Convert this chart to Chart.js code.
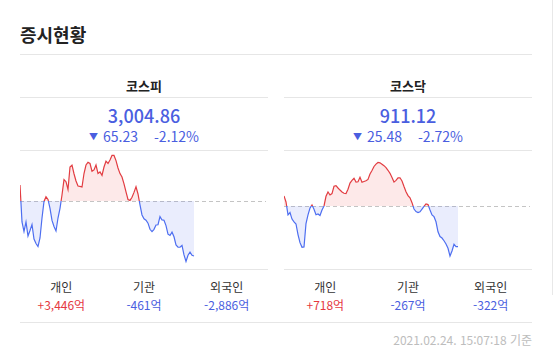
<!DOCTYPE html>
<html lang="ko">
<head>
<meta charset="utf-8">
<script src="https://cdn.jsdelivr.net/npm/chart.js@4.4.1/dist/chart.umd.min.js"></script>
<style>
  body { margin: 0; background: #fff; font-family: "Noto Sans CJK KR", "Noto Sans", sans-serif; color: #222; }
  #wrap { position: relative; width: 553px; height: 352px; overflow: hidden; }
  .edge { position: absolute; left: 552px; top: 0; width: 1px; height: 295px; background: #e8e8e8; }
  .title { position: absolute; left: 20px; top: 22px; font-size: 18px; font-weight: 700; line-height: 24px; color: #222; }
  .hr { position: absolute; height: 1px; background: #e6e6e6; }
  .pane { position: absolute; top: 0; width: 248px; height: 322px; }
  .pane .hr { left: 0; width: 248px; }
  .name { position: absolute; left: 0; width: 248px; top: 77px; text-align: center; font-size: 13px; font-weight: 700; line-height: 18px; color: #222; }
  .price { position: absolute; left: 0; width: 248px; top: 103px; text-align: center; font-size: 18px; font-weight: 500; line-height: 24px; color: #4a5ee0; }
  .chg { position: absolute; left: 0; width: 248px; top: 127px; text-align: center; font-size: 14px; line-height: 18px; color: #4a5ee0; }
  .chg .tri { font-size: 9px; vertical-align: 2px; margin-right: 5px; }
  .chg .pct { margin-left: 16px; }
  canvas { position: absolute; left: 0; top: 151px; }
  .col { position: absolute; top: 278px; width: 82.67px; text-align: center; }
  .col .lb { font-size: 12px; line-height: 18px; color: #333; }
  .col .vl { font-size: 12px; line-height: 18px; margin-top: 0px; }
  .up { color: #e5383f; }
  .down { color: #4a5ee0; }
  .stamp { position: absolute; right: 21px; top: 331px; font-size: 12px; line-height: 18px; color: #bdbdbd; }
</style>
</head>
<body>
<div id="wrap">
  <div class="edge"></div>
  <div class="title">증시현황</div>
  <div class="hr" style="left:20px; width:512px; top:54px;"></div>

  <div class="pane" style="left:20px;">
    <div class="name">코스피</div>
    <div class="hr" style="top:97px;"></div>
    <div class="price">3,004.86</div>
    <div class="chg"><span class="tri">▼</span>65.23<span class="pct">-2.12%</span></div>
    <div class="hr" style="top:150px;"></div>
    <canvas id="kospi" width="248" height="117"></canvas>
    <div class="hr" style="top:269px;"></div>
    <div id="kospiCols"></div>
  </div>

  <div class="pane" style="left:284px;">
    <div class="name">코스닥</div>
    <div class="hr" style="top:97px;"></div>
    <div class="price">911.12</div>
    <div class="chg"><span class="tri">▼</span>25.48<span class="pct">-2.72%</span></div>
    <div class="hr" style="top:150px;"></div>
    <canvas id="kosdaq" width="248" height="117"></canvas>
    <div class="hr" style="top:269px;"></div>
    <div id="kosdaqCols"></div>
  </div>

  <div class="hr" style="left:20px; width:512px; top:322px;"></div>
  <div class="stamp">2021.02.24. 15:07:18 기준</div>
</div>

<script>
// intraday slots for the full session; only the first part has prints so far
const slots = Array.from({ length: 125 }, (_, i) => i);

const kospiPrevClose = 3070.09;
const kospiValues = [
  3089.1, 3045.2, 3033.9, 3045.2, 3028.6, 3035.1, 3042.2, 3025.0, 3019.7, 3016.1,
  3026.2, 3049.9, 3069.5, 3075.1, 3071.9, 3061.2, 3047.0, 3039.9, 3034.5, 3049.9,
  3061.4, 3077.2, 3095.5, 3093.0, 3083.7, 3110.4, 3112.6, 3102.4, 3093.8, 3087.9,
  3087.4, 3086.7, 3102.7, 3112.8, 3115.9, 3114.6, 3105.4, 3106.9, 3112.8, 3102.7,
  3104.5, 3100.5, 3110.4, 3117.3, 3114.6, 3118.7, 3124.1, 3124.1, 3118.0, 3109.2,
  3102.6, 3098.6, 3090.3, 3080.8, 3071.9, 3070.8, 3074.5, 3080.3, 3086.9, 3078.4,
  3065.4, 3053.5, 3049.0, 3047.3, 3043.8, 3036.5, 3033.7, 3036.5, 3041.6, 3041.9,
  3051.6, 3047.6, 3047.3, 3040.9, 3030.7, 3029.2, 3033.1, 3027.6, 3017.9, 3015.2,
  3015.2, 3017.3, 3006.1, 2998.3, 3005.7, 3009.4, 3005.6, 3004.86
];

const kosdaqPrevClose = 936.60;
const kosdaqValues = [
  942.9, 939.1, 931.0, 932.5, 928.4, 926.6, 925.3, 918.7, 913.6, 910.7,
  910.9, 925.6, 931.0, 935.3, 937.2, 934.5, 931.1, 931.6, 930.6, 934.1,
  936.6, 942.7, 945.4, 943.5, 944.4, 949.0, 949.4, 947.9, 946.6, 945.4,
  944.6, 944.4, 947.1, 951.0, 952.7, 954.0, 951.6, 951.8, 954.6, 951.5,
  952.0, 952.4, 953.3, 956.7, 958.9, 961.4, 962.9, 963.9, 963.7, 962.8,
  961.9, 960.7, 959.0, 957.1, 954.5, 951.6, 952.7, 954.2, 954.3, 952.3,
  948.8, 945.6, 943.1, 941.7, 938.7, 934.7, 933.1, 932.5, 933.0, 934.7,
  936.4, 937.9, 937.5, 934.1, 931.0, 929.9, 926.7, 920.4, 917.4, 916.5,
  914.8, 912.8, 910.1, 905.2, 908.4, 912.6, 911.1, 911.12
];

const investors = ['개인', '기관', '외국인'];
const kospiFlows = ['+3,446억', '-461억', '-2,886억'];
const kosdaqFlows = ['+718억', '-267억', '-322억'];

const RED = '#e23c41';
const BLUE = '#4d6ef0';

// dashed line at previous close
const baseLine = {
  id: 'baseLine',
  beforeDatasetsDraw(chart, args, opts) {
    const { ctx, chartArea, scales } = chart;
    const y = Math.round(scales.y.getPixelForValue(opts.value)) + 0.5;
    ctx.save();
    ctx.strokeStyle = '#c4c4c4';
    ctx.lineWidth = 1;
    ctx.setLineDash([4, 3]);
    ctx.beginPath();
    ctx.moveTo(chartArea.left, y);
    ctx.lineTo(chartArea.right - 2, y);
    ctx.stroke();
    ctx.restore();
  }
};

function makeChart(id, values, prevClose, yMin, yMax) {
  const ctx = document.getElementById(id).getContext('2d');
  return new Chart(ctx, {
    type: 'line',
    data: {
      labels: slots,
      datasets: [{
        data: values,
        borderWidth: 1.2,
        pointRadius: 0,
        tension: 0,
        // red above the previous close, blue below
        borderColor: (c) => {
          const { chart } = c;
          const area = chart.chartArea;
          if (!area) return BLUE;
          const y = chart.scales.y.getPixelForValue(prevClose);
          const stop = Math.min(Math.max((y - area.top) / (area.bottom - area.top), 0), 1);
          const g = chart.ctx.createLinearGradient(0, area.top, 0, area.bottom);
          g.addColorStop(0, RED);
          g.addColorStop(stop, RED);
          g.addColorStop(stop, BLUE);
          g.addColorStop(1, BLUE);
          return g;
        },
        fill: {
          target: { value: prevClose },
          above: 'rgba(235, 70, 70, 0.12)',
          below: 'rgba(80, 110, 235, 0.12)'
        }
      }]
    },
    options: {
      responsive: false,
      animation: false,
      layout: { padding: 0 },
      scales: {
        x: { display: false },
        y: { display: false, min: yMin, max: yMax }
      },
      plugins: {
        legend: { display: false },
        tooltip: { enabled: false },
        baseLine: { value: prevClose }
      }
    },
    plugins: [baseLine]
  });
}

function makeCols(id, flows) {
  const box = document.getElementById(id);
  investors.forEach((name, i) => {
    const d = document.createElement('div');
    d.className = 'col';
    d.style.left = (i * 82.67) + 'px';
    const cls = flows[i].startsWith('+') ? 'up' : 'down';
    d.innerHTML = '<div class="lb">' + name + '</div><div class="vl ' + cls + '">' + flows[i] + '</div>';
    box.appendChild(d);
  });
}

makeChart('kospi', kospiValues, kospiPrevClose, 2990.6, 3129.4);
makeChart('kosdaq', kosdaqValues, kosdaqPrevClose, 897.7, 971.1);
makeCols('kospiCols', kospiFlows);
makeCols('kosdaqCols', kosdaqFlows);
</script>
</body>
</html>
